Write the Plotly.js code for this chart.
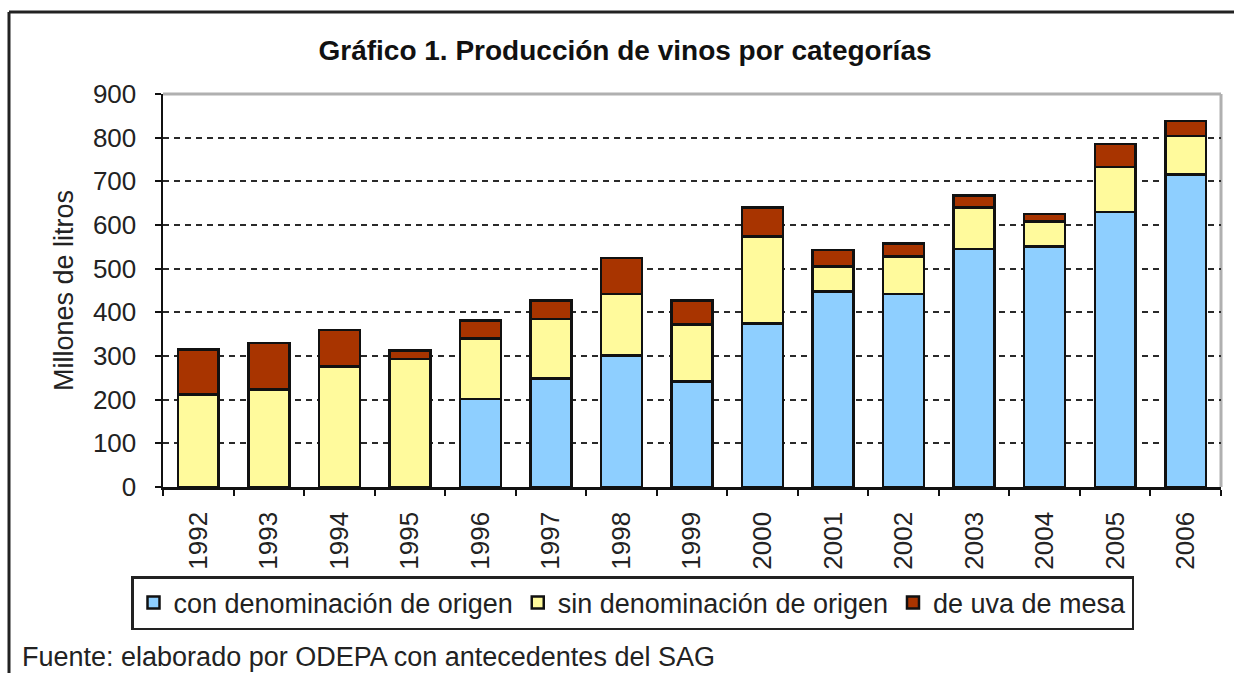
<!DOCTYPE html>
<html>
<head>
<meta charset="utf-8">
<script src="https://cdn.plot.ly/plotly-3.0.1.min.js"></script>
<style>
html,body{margin:0;padding:0;background:#fff;}
#chart{width:1234px;height:673px;}
</style>
</head>
<body>
<div id="chart"></div>
<script>
const years = ["1992","1993","1994","1995","1996","1997","1998","1999","2000","2001","2002","2003","2004","2005","2006"];
const conDenominacion = [0,0,0,0,201,248,301,242,375,448,442,545,551,630,716];
const sinDenominacion = [212,223,276,293,139,137,141,130,199,57,86,95,57,103,88];
const uvaDeMesa = [103,107,83,20,41,42,83,55,66,38,30,27,17,53,34];
const seriesNames = ["con denominación de origen","sin denominación de origen","de uva de mesa"];
const yTicks = [0,100,200,300,400,500,600,700,800,900];

const colors = ["#8ecfff","#fffa9c","#a83400"];
const font = "Liberation Sans, Arial, sans-serif";

function bar(name, vals, color){
  return {
    type:"bar", name:name, x:years, y:vals,
    marker:{color:color, line:{color:"#111", width:2.5}},
    hoverinfo:"x+y+name"
  };
}

const data = [
  bar(seriesNames[0], conDenominacion, colors[0]),
  bar(seriesNames[1], sinDenominacion, colors[1]),
  bar(seriesNames[2], uvaDeMesa, colors[2])
];

const layout = {
  width:1234, height:673,
  paper_bgcolor:"#fff", plot_bgcolor:"#fff",
  margin:{l:163, r:13, t:94, b:186},
  barmode:"stack",
  bargap:0.42,
  showlegend:true,
  font:{family:font, size:26, color:"#222"},
  title:{
    text:"<b>Gráfico 1. Producción de vinos por categorías</b>",
    font:{family:font, size:28, color:"#111"},
    xref:"container", x:0.5065, xanchor:"center",
    yref:"container", y:1-50/673, yanchor:"middle"
  },
  xaxis:{
    type:"category",
    tickangle:-90,
    ticks:"outside", ticklen:6, tickwidth:2, tickcolor:"#111",
    tickson:"boundaries",
    ticklabelstandoff:12,
    showline:true, linecolor:"#111", linewidth:2.5,
    showgrid:false,
    tickfont:{family:font, size:26, color:"#222"},
    fixedrange:true
  },
  yaxis:{
    range:[0,900],
    tickvals:yTicks,
    ticks:"outside", ticklen:6, tickwidth:2, tickcolor:"#111",
    ticklabelstandoff:13,
    showline:true, linecolor:"#111", linewidth:2.5,
    showgrid:true, gridcolor:"#2a2a2a", gridwidth:2, griddash:"6px,5px",
    zeroline:false,
    tickfont:{family:font, size:26, color:"#222"},
    title:{text:"Millones de litros", font:{family:font, size:27, color:"#222"}, standoff:12},
    fixedrange:true
  },
  legend:{
    orientation:"h",
    x:(131-163)/1058, xanchor:"left",
    y:(487-576)/393, yanchor:"top",
    bordercolor:"#222", borderwidth:2.5,
    bgcolor:"#fff",
    font:{family:font, size:27, color:"#222"},
    traceorder:"normal"
  },
  annotations:[{
    text:"Fuente: elaborado por ODEPA con antecedentes del SAG",
    xref:"paper", yref:"paper",
    x:(20-163)/1058, y:(487-657)/393,
    xanchor:"left", yanchor:"middle",
    showarrow:false,
    font:{family:font, size:27, color:"#222"}
  }],
  shapes:[
    {type:"line", xref:"paper", yref:"paper", x0:-154/1058, x1:1.02, y0:475/393, y1:475/393, line:{color:"#222", width:3}},
    {type:"line", xref:"paper", yref:"paper", x0:-154/1058, x1:-154/1058, y0:475/393, y1:-0.5, line:{color:"#222", width:3}},
    {type:"line", xref:"paper", yref:"paper", x0:0, x1:1, y0:1, y1:1, line:{color:"#b0b0b0", width:3}, layer:"below"},
    {type:"line", xref:"paper", yref:"paper", x0:1, x1:1, y0:0, y1:1, line:{color:"#b0b0b0", width:3}, layer:"below"}
  ]
};

Plotly.newPlot("chart", data, layout, {displayModeBar:false, staticPlot:true});
</script>
</body>
</html>
